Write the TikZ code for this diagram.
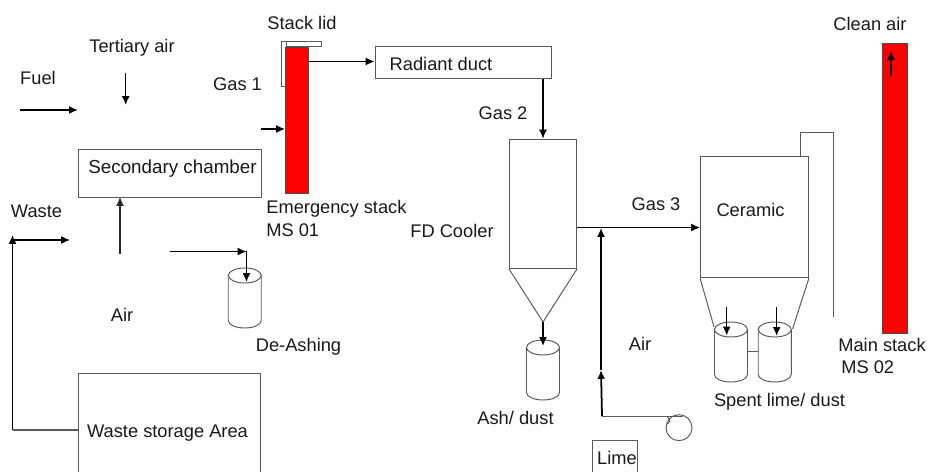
\documentclass[tikz,border=0pt]{standalone}
\usepackage{fontspec}
\setmainfont{Liberation Sans}
\usepackage{xcolor}
\usetikzlibrary{arrows.meta,positioning}

\begin{document}
\begin{tikzpicture}[
    x=0.02cm, y=-0.02cm,
    font=\fontsize{10.4}{12}\selectfont,
    box/.style 2 args={draw=black!65, fill=white, line width=0.55pt, inner sep=0pt,
      minimum width=#1*0.02cm, minimum height=#2*0.02cm},
    stack/.style 2 args={box={#1}{#2}, draw=black!70, fill=red},
    pipe/.style={draw=black!65, line width=0.55pt},
    flow/.style={-{Latex[length=5pt,width=4.5pt]}, black, line width=0.85pt},
    tag/.style={inner sep=0pt, text=black!90},
    drum/.pic={
      \draw[pipe] (-16.5,-22.5) -- (-16.5,22.5) arc[start angle=180, end angle=0, x radius=16.5, y radius=7.5] -- (16.5,-22.5);
      \draw[pipe] (0,-22.5) ellipse[x radius=16.5, y radius=7.5];
    },
  ]
  \useasboundingbox (0,0) rectangle (928,472);

  % --- Burner side ---
  \node[box={182.5}{48}] (secondary) at (169.75,173) {};
  \node[tag, font=\fontsize{10.7}{12}\selectfont] (secondarytxt) at (172.5,168.5) {Secondary chamber};
  \node[box={182}{113}] (storage) at (169.5,430) {};
  \node[tag] (storagetxt) at (167.5,433) {Waste storage Area};
  \node[tag] (fueltxt) at (38,78) {Fuel};
  \node[tag] (tertiarytxt) at (132,47.5) {Tertiary air};
  \node[tag] (wastetxt) at (36.5,211) {Waste};
  \node[tag] (airtxt) at (122,315) {Air};
  \node[tag] (deashtxt) at (298.5,347) {De-Ashing};
  \pic (deash) at (244.75,298) {drum};

  \coordinate (fuelstart) at (20,110);
  \coordinate (fuelend) at (78,110);
  \coordinate (tertstart) at (125.7,73);
  \coordinate (tertend) at (125.7,105);
  \coordinate (airstart) at (120,254);
  \coordinate (airend) at (120,197);
  \coordinate (wastecorner) at (12.5,430);
  \coordinate (wastetop) at (12.5,235);
  \coordinate (wastefrom) at (12.5,240);
  \coordinate (wasteend) at (70,240);
  \coordinate (ashstart) at (170,251.5);
  \coordinate (ashcorner) at (246.5,251.5);
  \coordinate (ashend) at (246.5,282);

  \draw[flow] (fuelstart) -- (fuelend);
  \draw[flow] (tertstart) -- (tertend);
  \draw[flow, black!85] (airstart) -- (airend);
  \draw[pipe, line width=0.8pt] (storage.west) -- (wastecorner);
  \draw[flow] (wastecorner) -- (wastetop);
  \draw[flow] (wastefrom) -- (wasteend);
  \draw[flow] (ashstart) -- (ashcorner);
  \draw[flow] (ashcorner) -- (ashend);

  % --- Emergency stack ---
  \node[box={5.5}{45}] (lidside) at (283.75,63.5) {};
  \node[box={34.5}{5.5}] (lidtop) at (303.75,43.75) {};
  \node[stack={23}{146}] (estack) at (297,120) {};
  \node[tag] (lidtxt) at (302,23) {Stack lid};
  \node[tag] (gasonetxt) at (237.5,84) {Gas 1};
  \node[tag, anchor=west] (estacktxt) at (266,209) {Emergency stack};
  \node[tag, anchor=west] (msonetxt) at (266,230) {MS 01};
  \coordinate (gasonestart) at (261,129);
  \draw[flow] (gasonestart) -- (gasonestart -| estack.west);

  % --- Radiant duct and cooler ---
  \node[box={176.5}{32}] (duct) at (463.25,62.5) {};
  \node[tag] (ducttxt) at (441,63.5) {Radiant duct};
  \node[box={67}{129.5}] (cooler) at (543,203.75) {};
  \coordinate (conetip) at (543,322);
  \draw[pipe] (cooler.south west) -- (conetip) -- (cooler.south east);
  \pic (ash) at (543,370) {drum};
  \coordinate (ashin) at (543,346);
  \coordinate (ductout) at (543,78.5);
  \node[tag] (gastwotxt) at (503,113) {Gas 2};
  \node[tag] (coolertxt) at (452,231) {FD Cooler};
  \node[tag] (ashtxt) at (515.5,418) {Ash/ dust};
  \draw[flow, line width=0.65pt] (duct.south -| ductout) -- (cooler.north);
  \draw[flow] (conetip) -- (ashin);
  \coordinate (estackout) at (309,61.5);
  \draw[flow] (estackout) -- (estackout -| duct.west);

  % --- Ceramic filter ---
  \coordinate (bypassa) at (800,156);
  \coordinate (bypassb) at (800,132);
  \coordinate (bypassc) at (833,132);
  \coordinate (bypassd) at (833,317);
  \draw[pipe] (bypassa) -- (bypassb) -- (bypassc) -- (bypassd);
  \node[box={108}{121.5}] (ceramic) at (754.5,216.75) {};
  \coordinate (hopleft) at (714,327);
  \coordinate (hopright) at (792.5,329);
  \draw[pipe] (ceramic.south west) -- (hopleft);
  \draw[pipe] (ceramic.south east) -- (hopright);
  \pic (spentl) at (731,352) {drum};
  \pic (spentr) at (774.75,352) {drum};
  \coordinate (linkl) at (747.5,351);
  \coordinate (linkr) at (758.25,351);
  \draw[pipe] (linkl) -- (linkr);
  \coordinate (inl) at (726.7,307.5);
  \coordinate (inlend) at (726.7,335.5);
  \coordinate (inr) at (776.7,307.5);
  \coordinate (inrend) at (776.7,336);
  \draw[flow] (inl) -- (inlend);
  \draw[flow] (inr) -- (inrend);
  \node[tag] (ceramictxt) at (750.5,209.5) {Ceramic};
  \node[tag] (gasthreetxt) at (656,204.5) {Gas 3};
  \node[tag] (spenttxt) at (779.5,401.5) {Spent lime/ dust};
  \coordinate (tee) at (576.5,227.5);
  \draw[flow] (tee) -- (tee -| ceramic.west);

  % --- Air and lime feed ---
  \node[box={44.3}{59.3}] (lime) at (614.85,470.35) {};
  \node[tag] (limetxt) at (617,458) {Lime};
  \node[tag] (airtwotxt) at (640,344) {Air};
  \node[circle, draw=black!65, line width=0.55pt, inner sep=0pt, minimum size=26*0.02cm] (fan) at (679,427.7) {};
  \coordinate (feedbase) at (602,416);
  \coordinate (feedmid) at (601,370);
  \coordinate (feedtop) at (601,228);
  \coordinate (fanout) at (683,416);
  \coordinate (fantaba) at (667,416);
  \coordinate (fantabb) at (670,421);
  \coordinate (fantabc) at (667.5,424);
  \draw[pipe] (feedbase) -- (fanout);
  \draw[pipe] (fantaba) -- (fantabb) -- (fantabc);
  \draw[flow, line width=1pt] (feedbase) -- (feedmid);
  \draw[flow] (feedmid) -- (feedtop);

  % --- Main stack ---
  \node[stack={25.7}{290.5}] (mstack) at (895,188.25) {};
  \node[tag] (cleantxt) at (870,24) {Clean air};
  \node[tag, anchor=west] (mainstacktxt) at (838,345) {Main stack};
  \node[tag, anchor=west] (mstwotxt) at (841,367) {MS 02};
  \coordinate (cleanstart) at (891,76);
  \coordinate (cleanend) at (891,51);
  \draw[flow] (cleanstart) -- (cleanend);
\end{tikzpicture}
\end{document}
